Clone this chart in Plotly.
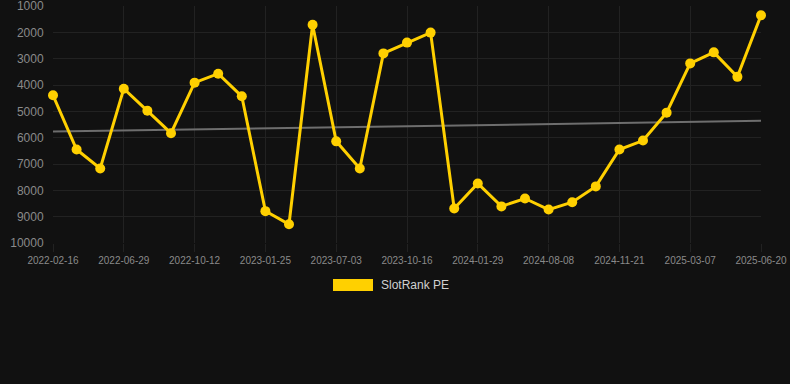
import plotly.graph_objects as go

dates = [
    "2022-02-16", "2022-03-31", "2022-05-14", "2022-06-29", "2022-08-03",
    "2022-09-07", "2022-10-12", "2022-11-16", "2022-12-21", "2023-01-25",
    "2023-03-18", "2023-05-10", "2023-07-03", "2023-08-07", "2023-09-11",
    "2023-10-16", "2023-11-20", "2023-12-25", "2024-01-29", "2024-04-02",
    "2024-06-05", "2024-08-08", "2024-09-12", "2024-10-17", "2024-11-21",
    "2024-12-26", "2025-01-30", "2025-03-07", "2025-04-11", "2025-05-16",
    "2025-06-20",
]
rank = [
    4390, 6450, 7170, 4140, 4980, 5830, 3910, 3570, 4430, 8790,
    9290, 1710, 6140, 7170, 2800, 2390, 2010, 8690, 7740, 8610,
    8310, 8730, 8450, 7850, 6450, 6110, 5050, 3180, 2760, 3690,
    1350,
]
trend_dates = [dates[0], dates[-1]]
trend_values = [5770, 5360]

x_ticks = dates[::3]
y_ticks = [1000, 2000, 3000, 4000, 5000, 6000, 7000, 8000, 9000, 10000]
series_name = "SlotRank PE"

BG = "#111111"
GRID = "#222222"
GOLD = "#FFD000"
FONT = "Arial, Liberation Sans, sans-serif"

fig = go.Figure()
fig.add_trace(go.Scatter(
    x=trend_dates, y=trend_values, mode="lines",
    line=dict(color="#6e6e6e", width=2), showlegend=False, hoverinfo="skip",
))
fig.add_trace(go.Scatter(
    x=dates, y=rank, mode="lines+markers", name=series_name,
    line=dict(color=GOLD, width=3),
    marker=dict(color=GOLD, size=10),
    cliponaxis=False, showlegend=False,
))

# legend drawn manually (wide rectangle swatch)
fig.add_shape(type="rect", xref="paper", yref="paper",
              x0=(333 - 53) / 708, x1=(373 - 53) / 708,
              y0=(243 - 291) / 237, y1=(243 - 279) / 237,
              fillcolor=GOLD, line=dict(width=0))
fig.add_annotation(xref="paper", yref="paper",
                   x=(379 - 53) / 708, y=(243 - 285) / 237,
                   text=series_name, showarrow=False,
                   xanchor="left", yanchor="middle",
                   font=dict(family=FONT, size=12, color="#d0d0d0"))

fig.update_layout(
    width=790, height=384,
    margin=dict(l=53, r=29, t=6, b=141),
    paper_bgcolor=BG, plot_bgcolor=BG,
    font=dict(family=FONT, color="#8a8a8a"),
    showlegend=False,
)
fig.update_xaxes(
    type="category", categoryorder="array", categoryarray=dates,
    range=[0, len(dates) - 1], automargin=False,
    tickmode="array", tickvals=x_ticks, ticktext=x_ticks,
    showgrid=True, gridcolor=GRID, gridwidth=1,
    ticks="outside", ticklen=8, tickcolor=GRID,
    tickfont=dict(size=10, color="#8a8a8a"),
    ticklabeloverflow="allow",
    showline=False, zeroline=False,
)
fig.update_yaxes(
    range=[10000, 1000], automargin=False,
    tickmode="array", tickvals=y_ticks, ticktext=[str(v) for v in y_ticks],
    showgrid=True, gridcolor=GRID, gridwidth=1,
    ticks="outside", ticklen=6, tickcolor="rgba(0,0,0,0)",
    tickfont=dict(size=12, color="#8a8a8a"),
    ticklabeloverflow="allow",
    showline=False, zeroline=False,
)

fig.write_html(
    "out.html",
    config={"displayModeBar": False},
    post_script="document.body.style.margin='0';document.body.style.background='#111111';document.body.style.overflow='hidden';",
)
